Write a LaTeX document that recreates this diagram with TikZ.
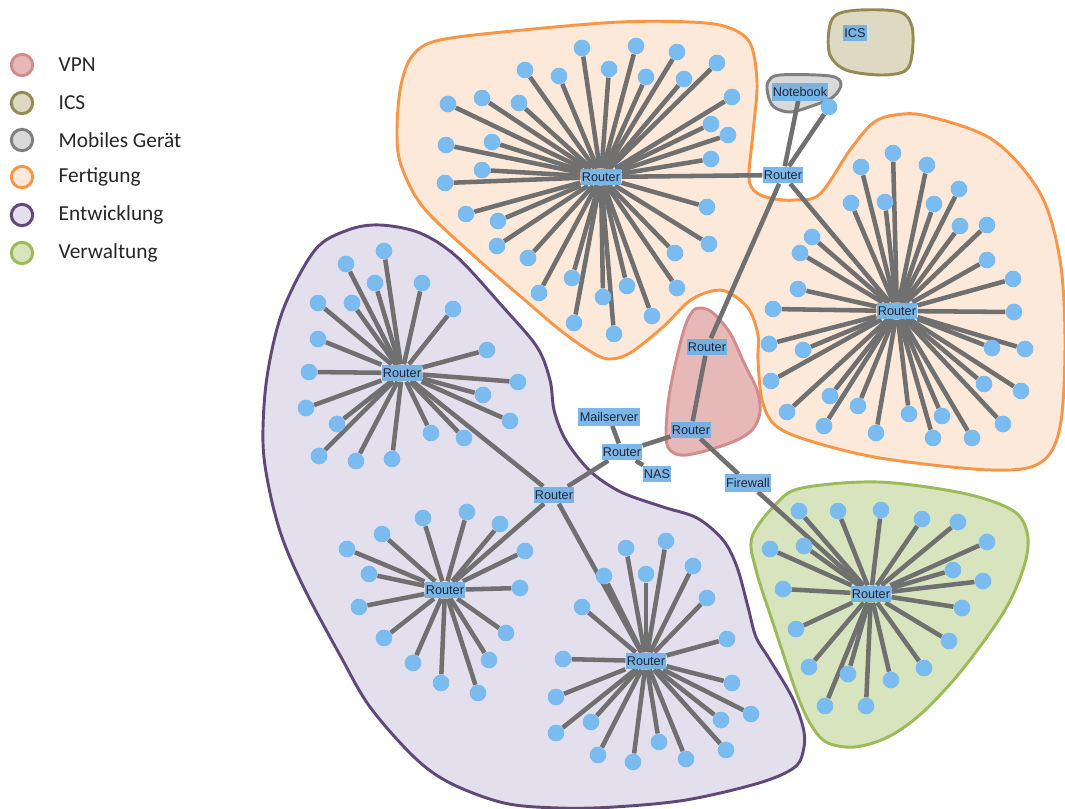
\documentclass[tikz,border=0pt]{standalone}
\usepackage{fontspec}
\setmainfont{Liberation Sans}
\newfontfamily\legfont{Carlito}
\pgfdeclarelayer{blobs}
\pgfdeclarelayer{edges}
\pgfsetlayers{blobs,edges,main}
\definecolor{orangeD}{RGB}{247,150,70}
\definecolor{orangeL}{RGB}{253,233,217}
\definecolor{purpleD}{RGB}{96,73,122}
\definecolor{purpleL}{RGB}{228,223,236}
\definecolor{greenD}{RGB}{155,187,89}
\definecolor{greenL}{RGB}{215,228,189}
\definecolor{vpnD}{RGB}{210,140,140}
\definecolor{vpnL}{RGB}{230,185,184}
\definecolor{icsD}{RGB}{148,138,84}
\definecolor{icsL}{RGB}{221,217,195}
\definecolor{mobD}{RGB}{127,127,127}
\definecolor{mobL}{RGB}{217,217,217}
\definecolor{leafC}{RGB}{122,187,240}
\definecolor{edgeC}{RGB}{112,112,112}
\definecolor{labC}{RGB}{110,175,228}
\definecolor{labT}{RGB}{30,40,60}
\tikzset{
  leaf/.style={circle,fill=leafC,inner sep=0pt,minimum size=12.5pt},
  edge/.style={draw=edgeC,line width=3.4pt},
  lab/.style={fill=labC,fill opacity=0.9,text opacity=1,text=labT,inner xsep=1pt,inner ysep=3pt,font=\fontsize{9.5}{10}\selectfont},
  blob/.style={line width=2.2pt},
  legcirc/.style={circle,minimum size=16pt,inner sep=0pt,line width=2.2pt},
  legtext/.style={anchor=west,font=\legfont\fontsize{16}{18}\selectfont,text=black!85}
}
\newcommand\mkleaves[2]{%
  \foreach \xx/\yy [count=\i] in {#2}{%
    \node[leaf] (#1-\i) at (\xx,\yy) {};
    \begin{pgfonlayer}{edges}\draw[edge] (#1) -- (#1-\i);\end{pgfonlayer}
  }}
\begin{document}
\begin{tikzpicture}[x=0.75pt,y=-0.75pt]
\useasboundingbox (0,0) rectangle (1065,809);

% ---------- blobs ----------
\begin{pgfonlayer}{blobs}
\draw[blob,draw=orangeD,fill=orangeL] plot[smooth cycle,tension=0.55] coordinates {
 (397,130) (401,85) (413,55) (440,40) (523,30) (620,22) (690,22) (727,27) (750,43)
 (757,83) (753,133) (749,178) (757,193) (775,199) (795,200) (820,194) (850,150)
 (873,123) (895,115) (927,116) (993,140) (1040,193) (1060,260) (1065,343)
 (1060,427) (1040,463) (990,470) (880,458) (807,440) (775,425) (762,400)
 (758,360) (758,335) (748,308) (725,291) (705,293) (687,303) (663,327) (630,353)
 (608,359) (588,350) (560,330) (527,302) (473,255) (423,207) (401,165)};
\draw[blob,draw=purpleD,fill=purpleL] plot[smooth cycle,tension=0.55] coordinates {
 (380,225) (420,233) (457,257) (503,307) (537,347) (550,380) (554,410) (564,437)
 (580,460) (597,477) (623,493) (663,507) (697,518) (723,540) (737,567) (748,607)
 (756,637) (770,660) (792,697) (803,727) (804,747) (795,767) (759,783) (686,800)
 (614,807) (559,808) (504,803) (450,783) (414,757) (370,707) (341,657) (305,590)
 (283,540) (270,493) (263,443) (267,377) (283,310) (315,250) (348,230)};
\draw[blob,draw=greenD,fill=greenL] plot[smooth cycle,tension=0.55] coordinates {
 (752,537) (776,504) (802,488) (878,482) (962,493) (1012,510) (1027,532) (1025,563)
 (1005,610) (962,670) (922,713) (888,737) (855,747) (828,743) (813,728) (798,697)
 (772,620) (756,570)};
\draw[blob,draw=vpnD,fill=vpnL] plot[smooth cycle,tension=0.55] coordinates {
 (701,308) (713,313) (730,333) (745,365) (757,390) (760,412) (752,430) (730,443)
 (687,455) (670,450) (666,433) (670,390) (683,333) (692,312)};
\draw[blob,draw=icsD,fill=icsL] plot[smooth cycle,tension=0.55] coordinates {
 (829,30) (836,15) (860,10) (900,12) (912,27) (912,55) (905,71) (880,75) (846,70) (830,55)};
\draw[blob,draw=mobD,fill=mobL] plot[smooth cycle,tension=0.55] coordinates {
 (768,82) (780,75) (830,76) (841,84) (833,97) (812,106) (790,112) (774,107) (768,95)};
\end{pgfonlayer}

% ---------- routers and labels ----------
\node[lab] (RT) at (601,177) {Router};
\node[lab] (RTR) at (783,175) {Router};
\node[lab] (RR) at (897,311) {Router};
\node[lab] (RV) at (707,347) {Router};
\node[lab] (RC) at (691,430) {Router};
\node[lab] (RM) at (622,452) {Router};
\node[lab] (MS) at (609,417) {Mailserver};
\node[lab] (NAS) at (657,474) {NAS};
\node[lab] (FW) at (748,483) {Firewall};
\node[lab] (RG) at (871,594) {Router};
\node[lab] (RH) at (554,495) {Router};
\node[lab] (RP1) at (402,373) {Router};
\node[lab] (RP2) at (445,590) {Router};
\node[lab] (RP3) at (646,661) {Router};
\node[lab] (NB) at (800,92) {Notebook};
\node[lab] (ICS) at (855,33) {ICS};
\node[leaf] (NB2) at (829,107) {};

\begin{pgfonlayer}{edges}
\draw[edge] (RT) -- (RTR);
\draw[edge] (RTR) -- (NB);
\draw[edge] (RTR) -- (NB2);
\draw[edge] (RTR) -- (RR);
\draw[edge] (RTR) -- (RV);
\draw[edge] (RV) -- (RC);
\draw[edge] (RC) -- (RM);
\draw[edge] (RC) -- (FW);
\draw[edge] (FW) -- (RG);
\draw[edge] (RM) -- (MS);
\draw[edge] (RM) -- (NAS);
\draw[edge] (RM) -- (RH);
\draw[edge] (RH) -- (RP1);
\draw[edge] (RH) -- (RP2);
\draw[edge] (RH) -- (RP3);
\end{pgfonlayer}

% ---------- leaves ----------
\mkleaves{RT}{582/48,636/46,677/52,717/63,525/70,559/76,609/69,646/77,684/79,732/97,448/104,482/98,519/103,711/124,728/135,446/145,492/142,711/159,482/170,445/183,707/207,466/214,498/221,497/246,709/244,528/258,675/253,572/278,539/293,627/286,677/288,603/297,652/316,574/323,614/334}
\mkleaves{RR}{893/153,861/167,927/165,959/189,851/203,885/202,934/204,960/226,987/225,812/237,800/253,987/260,1013/279,798/289,773/309,1014/312,769/344,803/350,992/348,1025/349,771/381,830/396,984/384,1021/391,787/412,858/406,909/414,942/416,1003/424,824/426,876/433,933/438,972/438}
\mkleaves{RP1}{384/251,346/264,375/283,422/283,318/303,352/303,453/309,318/339,487/350,309/372,518/382,483/395,306/408,510/421,337/424,431/433,464/438,319/456,356/461,392/459}
\mkleaves{RP2}{423/518,467/512,500/524,382/534,347/549,525/551,369/574,520/588,359/607,506/633,384/638,489/660,413/663,441/683,478/693}
\mkleaves{RP3}{666/541,626/548,693/566,604/576,646/574,707/598,582/607,727/639,563/659,732/683,556/697,751/714,721/720,591/722,556/733,726/750,659/742,598/755,686/759,633/762}
\mkleaves{RG}{799/511,838/511,881/510,922/519,958/522,987/542,770/549,804/546,953/570,983/581,783/589,962/608,796/629,949/641,809/667,924/668,848/674,891/680,825/706,866/706}

% ---------- legend ----------
\node[legcirc,draw=vpnD,fill=vpnL] (L1) at (22,65) {};
\node[legtext] (T1) at (54,65) {VPN};
\node[legcirc,draw=icsD,fill=icsL] (L2) at (22,103) {};
\node[legtext] (T2) at (54,103) {ICS};
\node[legcirc,draw=mobD,fill=mobL] (L3) at (22,140) {};
\node[legtext] (T3) at (54,140) {Mobiles Gerät};
\node[legcirc,draw=orangeD,fill=orangeL] (L4) at (22,177) {};
\node[legtext] (T4) at (54,177) {Fertigung};
\node[legcirc,draw=purpleD,fill=purpleL] (L5) at (22,215) {};
\node[legtext] (T5) at (54,215) {Entwicklung};
\node[legcirc,draw=greenD,fill=greenL] (L6) at (22,253) {};
\node[legtext] (T6) at (54,253) {Verwaltung};
\end{tikzpicture}
\end{document}
